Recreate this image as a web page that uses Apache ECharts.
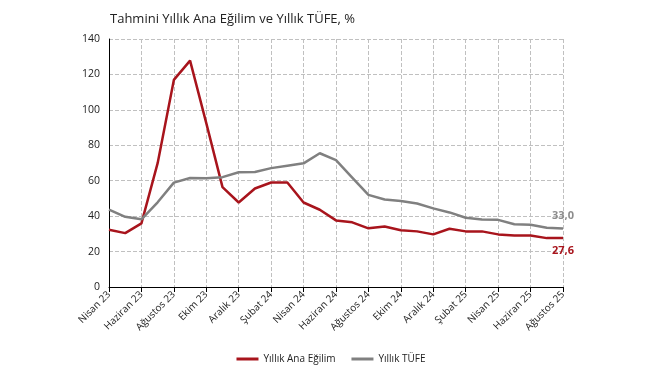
<!DOCTYPE html>
<html><head><meta charset="utf-8">
<script src="https://cdn.jsdelivr.net/npm/echarts@6/dist/echarts.min.js"></script>
<style>html,body{margin:0;padding:0;background:#fff}#c{width:662px;height:375px}</style>
</head><body><div id="c"></div>
<script>
const categories = ['Nisan 23','Mayıs 23','Haziran 23','Temmuz 23','Ağustos 23','Eylül 23','Ekim 23','Kasım 23','Aralık 23','Ocak 24','Şubat 24','Mart 24','Nisan 24','Mayıs 24','Haziran 24','Temmuz 24','Ağustos 24','Eylül 24','Ekim 24','Kasım 24','Aralık 24','Ocak 25','Şubat 25','Mart 25','Nisan 25','Mayıs 25','Haziran 25','Temmuz 25','Ağustos 25'];
const anaEgilim = [32.3,30.4,35.9,69.9,116.9,127.8,92.5,56.4,47.7,55.6,59.0,59.0,47.7,43.6,37.6,36.5,33.1,34.2,32.0,31.4,29.7,32.9,31.4,31.4,29.7,29.1,29.1,27.6,27.6];
const tufe = [43.7,39.6,38.2,47.8,58.9,61.5,61.4,62.0,64.8,64.9,67.1,68.5,69.8,75.5,71.6,61.8,52.0,49.4,48.6,47.1,44.4,42.1,39.1,38.1,37.9,35.4,35.1,33.5,33.0];
const yTicks = {min:0, max:140, interval:20};
const title = 'Tahmini Yıllık Ana Eğilim ve Yıllık TÜFE, %';
const names = ['Yıllık Ana Eğilim','Yıllık TÜFE'];

const fmt = v => v.toFixed(1).replace('.', ',');
const last = categories.length - 1;
const chart = echarts.init(document.getElementById('c'));
const FONT = '"Open Sans", "Noto Sans", sans-serif';
chart.setOption({
  animation:false,
  textStyle:{fontFamily:FONT},
  title:{text:title,left:105,top:8,textStyle:{fontFamily:FONT,fontSize:13,fontWeight:'normal',color:'#222'}},
  grid:{left:109,right:99,top:39,bottom:88},
  legend:{bottom:6,left:'center',itemWidth:22,itemHeight:3,itemGap:16,icon:'rect',
    textStyle:{fontFamily:FONT,fontSize:10,color:'#222'},data:names},
  xAxis:{type:'category',data:categories,boundaryGap:false,
    axisLine:{lineStyle:{color:'#000',width:1}},
    axisTick:{show:true,interval:1,length:5,lineStyle:{color:'#000'}},
    axisLabel:{interval:1,rotate:45,fontSize:10,color:'#222',margin:6},
    splitLine:{show:true,interval:1,lineStyle:{type:'dashed',color:'#c0c0c0',width:1}}},
  yAxis:{type:'value',min:yTicks.min,max:yTicks.max,interval:yTicks.interval,
    axisLine:{show:true,lineStyle:{color:'#000',width:1}},
    axisTick:{show:false},
    axisLabel:{fontSize:10.5,color:'#222',margin:9},
    splitLine:{show:true,lineStyle:{type:'dashed',color:'#c0c0c0',width:1}}},
  series:[
    {name:names[0],type:'line',data:anaEgilim,symbol:'circle',symbolSize:0.01,showSymbol:true,color:'#a8141c',
      lineStyle:{width:2.5,color:'#a8141c'},
      label:{show:true,position:'bottom',distance:7,fontWeight:'bold',fontSize:11,color:'#a8141c',
        formatter:p=>p.dataIndex===last?fmt(p.value):''}},
    {name:names[1],type:'line',data:tufe,symbol:'circle',symbolSize:0.01,showSymbol:true,color:'#808080',
      lineStyle:{width:2.5,color:'#808080'},
      label:{show:true,position:'top',distance:7,fontWeight:'bold',fontSize:11,color:'#8c8c8c',
        formatter:p=>p.dataIndex===last?fmt(p.value):''}}
  ]
});
</script></body></html>
